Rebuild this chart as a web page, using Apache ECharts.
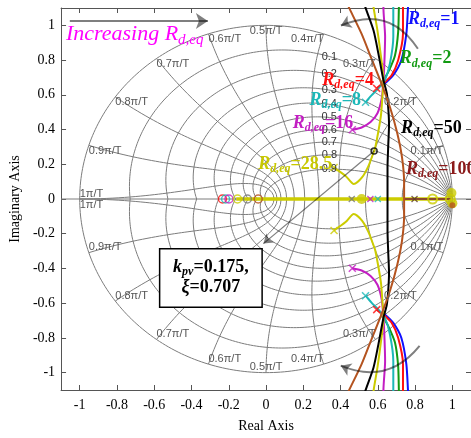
<!DOCTYPE html>
<html><head><meta charset="utf-8">
<script src="https://cdn.jsdelivr.net/npm/echarts@6/dist/echarts.min.js"></script>
<style>html,body{margin:0;padding:0;background:#fff}#c{width:471px;height:438px}</style>
</head><body><div id="c"></div>
<script>
// ---- axis ticks ----
const xTicks = [-1,-0.8,-0.6,-0.4,-0.2,0,0.2,0.4,0.6,0.8,1];
const yTicks = [-1,-0.8,-0.6,-0.4,-0.2,0,0.2,0.4,0.6,0.8,1];
// ---- z-grid values ----
const zetaGrid = [0,0.1,0.2,0.3,0.4,0.5,0.6,0.7,0.8,0.9];
const zetaLabels = ['0.1','0.2','0.3','0.4','0.5','0.6','0.7','0.8','0.9'];
const wnGrid = [0.1,0.2,0.3,0.4,0.5,0.6,0.7,0.8,0.9,1];   // x pi/T
const wnLabels = ['0.1\u03c0/T','0.2\u03c0/T','0.3\u03c0/T','0.4\u03c0/T','0.5\u03c0/T','0.6\u03c0/T','0.7\u03c0/T','0.8\u03c0/T','0.9\u03c0/T','1\u03c0/T'];
// ---- root loci (upper half, conjugate branch mirrored) ----
const locusRd1   = [[0.765,1.16],[0.762,1.105],[0.753,0.951],[0.726,0.799],[0.683,0.713],[0.639,0.666],[0.624,0.652]];
const locusRd2   = [[0.715,1.16],[0.713,1.105],[0.709,0.961],[0.692,0.827],[0.656,0.732],[0.630,0.685],[0.617,0.662]];
const locusRd4   = [[0.735,1.16],[0.735,1.105],[0.735,0.951],[0.709,0.799],[0.674,0.713],[0.630,0.666],[0.594,0.637]];
const locusRd8   = [[0.683,1.16],[0.683,1.105],[0.683,0.934],[0.665,0.780],[0.638,0.685],[0.603,0.637],[0.566,0.597],[0.534,0.557]];
const locusRd16  = [[0.630,1.16],[0.630,1.105],[0.639,0.934],[0.635,0.780],[0.630,0.683],[0.621,0.580],[0.598,0.494],[0.561,0.443],[0.513,0.412],[0.463,0.399]];
const locusRd285 = [[0.575,1.16],[0.577,1.105],[0.598,0.970],[0.617,0.818],[0.630,0.683],[0.624,0.580],[0.617,0.485],[0.603,0.390],[0.586,0.295],[0.580,0.276],[0.550,0.191],[0.515,0.124],[0.471,0.086],[0.427,0.133],[0.365,0.181]];
const locusRd50  = [[0.520,1.16],[0.533,1.105],[0.577,0.970],[0.603,0.837],[0.630,0.685],[0.648,0.609],[0.656,0.523],[0.660,0.426],[0.656,0.312],[0.652,0.181],[0.652,0]];
const locusRd100 = [[0.420,1.16],[0.444,1.105],[0.513,0.951],[0.566,0.808],[0.619,0.666],[0.667,0.523],[0.704,0.380],[0.730,0.238],[0.741,0.095],[0.741,0]];
const realBranchRd285 = [[-0.16,0],[1.0,0]];
const realBranchRd100 = [[0.741,0],[0.99,0]];
// ---- markers on the real axis ----
const zeroX = [-0.234,-0.217,-0.199,-0.153,-0.100,-0.042];
const zeroColors = ['#ff1010','#1cb8b8','#c31ec3','#cccc00','#777777','#b4531f'];
const yellowZeroX = [0.894, 0.989];
const yellowDots = [[0.513,0],[0.995,0.035],[1.0,-0.025]];
const brownDots = [[1.0,-0.036]];
const realPoleX = [0.46,0.56,0.60,0.797];
const realPoleColors = ['#777777','#c31ec3','#1cb8b8','#5a3a2a'];
const designPoint = [[0.580,0.276]];
const designText = ['k','pv','=0.175,','\u03be','=0.707'];

const C = {b:'#1010ff',g:'#129a12',r:'#ff1010',c:'#1cb8b8',m:'#c31ec3',y:'#cccc00',k:'#000000',br:'#b4531f',dr:'#8b1a1a'};
const SERIF = 'Liberation Serif';
const NOFILL = 'rgba(0,0,0,0)';
const mirror = pts => pts.map(p => [p[0], -p[1]]);

const series = [];
function gridLine(pts){
  series.push({type:'line', data:pts, symbol:'none', silent:true, animation:false, z:1,
    lineStyle:{color:'#7c7c7c', width:1}});
}
zetaGrid.forEach(z => {
  const k = z/Math.sqrt(1-z*z), up=[], dn=[];
  for (let i=0;i<=160;i++){ const th=Math.PI*i/160, r=Math.exp(-k*th);
    up.push([r*Math.cos(th), r*Math.sin(th)]); dn.push([r*Math.cos(th), -r*Math.sin(th)]); }
  gridLine(up); gridLine(dn);
});
wnGrid.forEach(w => {
  const wn=w*Math.PI, up=[], dn=[];
  for (let i=0;i<=80;i++){ const z=i/80, r=Math.exp(-z*wn), th=wn*Math.sqrt(1-z*z);
    up.push([r*Math.cos(th), r*Math.sin(th)]); dn.push([r*Math.cos(th), -r*Math.sin(th)]); }
  gridLine(up); gridLine(dn);
});
gridLine([[-1.1,0],[1.1,0]]);

function locus(pts, color, w){
  series.push({type:'line', data:pts, symbol:'none', smooth:0.25, silent:true, animation:false, z:5,
    lineStyle:{color:color, width:w||2}});
}
locus(realBranchRd285, C.y, 3.5);
locus(realBranchRd100, '#8b4a2b', 2);
[[locusRd1,C.b],[locusRd2,C.g],[locusRd4,C.r],[locusRd8,C.c],[locusRd16,C.m],[locusRd285,C.y]].forEach(([p,c])=>{
  locus(p,c); locus(mirror(p),c);
});
[[locusRd50,C.k],[locusRd100,C.br]].forEach(([p,c])=>{
  locus(p.concat(mirror(p).reverse().slice(1)), c);
});

const XSYM = 'path://M0,0L10,10M10,0L0,10';
function marks(pts, symbol, size, style){
  series.push({type:'scatter', data:pts, symbol:symbol, symbolSize:size, silent:true, animation:false, z:6, itemStyle:style});
}
// end-of-locus crosses
[[locusRd4,C.r],[locusRd8,C.c],[locusRd16,C.m],[locusRd285,C.y]].forEach(([p,c])=>{
  const e=p[p.length-1];
  marks([e,[e[0],-e[1]]], XSYM, 7, {color:NOFILL, borderColor:c, borderWidth:1.5});
});
zeroX.forEach((x,i)=>marks([[x,0]], 'circle', 8, {color:NOFILL, borderColor:zeroColors[i], borderWidth:1.5}));
marks(yellowDots, 'circle', 10, {color:C.y});
marks(yellowZeroX.map(x=>[x,0]), 'circle', 9, {color:NOFILL, borderColor:C.y, borderWidth:2});
marks(brownDots, 'circle', 6, {color:'#b4531f'});
realPoleX.forEach((x,i)=>marks([[x,0]], XSYM, 6, {color:NOFILL, borderColor:realPoleColors[i], borderWidth:1.3}));
marks(designPoint, 'circle', 6, {color:NOFILL, borderColor:'#000', borderWidth:1.5});

// annotation arrows
series.push({type:'lines', coordinateSystem:'cartesian2d', silent:true, animation:false, z:7,
  symbol:['none','arrow'], symbolSize:10,
  lineStyle:{color:'#000', width:2},
  data:[
    {coords:[[-1.053,1.025],[-0.312,1.025]], symbolSize:12},
    {coords:[[0.815,0.865],[0.402,0.999]], lineStyle:{curveness:-0.42}},
    {coords:[[0.824,-0.846],[0.401,-0.960]], lineStyle:{curveness:0.375}},
    {coords:[[0.580,0.276],[-0.014,-0.257]], lineStyle:{width:1.3}, symbolSize:9}
  ]});

const axisCommon = {type:'value', min:-1.1, max:1.1, splitLine:{show:false},
  axisLine:{show:true, onZero:false, lineStyle:{color:'#555', width:1}}};
const option = {
  animation:false,
  grid:{left:59, top:8, right:-3, bottom:44},
  xAxis:[
    Object.assign({}, axisCommon, {position:'bottom', name:'Real Axis', nameLocation:'middle', nameGap:29,
      nameTextStyle:{fontFamily:SERIF, fontSize:14, color:'#000'},
      axisTick:{inside:true, length:5, customValues:xTicks, lineStyle:{color:'#555'}},
      axisLabel:{customValues:xTicks, fontFamily:SERIF, fontSize:14, color:'#000', margin:8}}),
    Object.assign({}, axisCommon, {position:'top', axisLabel:{show:false},
      axisTick:{inside:true, length:5, customValues:xTicks, lineStyle:{color:'#555'}}})
  ],
  yAxis:[
    Object.assign({}, axisCommon, {position:'left', name:'Imaginary Axis', nameLocation:'middle', nameGap:31,
      nameTextStyle:{fontFamily:SERIF, fontSize:14, color:'#000'},
      axisTick:{inside:true, length:5, customValues:yTicks, lineStyle:{color:'#555'}},
      axisLabel:{customValues:yTicks, fontFamily:SERIF, fontSize:14, color:'#000', margin:6}}),
    Object.assign({}, axisCommon, {position:'right', axisLabel:{show:false},
      axisTick:{inside:true, length:5, customValues:yTicks, lineStyle:{color:'#555'}}})
  ],
  series:series
};
const chart = echarts.init(document.getElementById('c'));
chart.setOption(option);

const px = p => chart.convertToPixel({xAxisIndex:0, yAxisIndex:0}, p);
const G = [];
// frequency labels at the unit circle
wnGrid.forEach((w,i)=>{
  const a=w*Math.PI, cx=Math.cos(a), sy=Math.sin(a);
  const align = cx<-0.01?'left':(cx>0.01?'right':'center');
  [1,-1].forEach(s=>{
    const p=px([cx, s*sy]);
    let va = s>0?'top':'bottom';
    if (w===1) va = s>0?'bottom':'top';
    G.push({type:'text', x:p[0], y:p[1], z:50, silent:true,
      style:{text:wnLabels[i], fill:'#555', fontFamily:'Liberation Sans', fontSize:11, align:align, verticalAlign:va}});
  });
});
// damping labels
zetaLabels.forEach((t,i)=>{
  const z=parseFloat(t), k=z/Math.sqrt(1-z*z);
  let best=null;
  for (let j=0;j<=2000;j++){ const th=Math.PI*j/2000, r=Math.exp(-k*th);
    if (r*Math.cos(th) <= 0.34){ best=[r*Math.cos(th), r*Math.sin(th)]; break; } }
  const p=px(best);
  G.push({type:'text', x:p[0], y:p[1], z:50, silent:true,
    style:{text:t, fill:'#333', fontFamily:'Liberation Sans', fontSize:11, align:'center', verticalAlign:'middle'}});
});
// R_d,eq labels
function rd(anchor, val, color){
  const p=px(anchor);
  const f = {fontFamily:SERIF, fill:color};
  G.push({type:'text', x:p[0], y:p[1]-9, z:60, silent:true,
    style:{text:'{R|R}{s|d,eq}{v|='+val+'}', align:'left', verticalAlign:'top',
      rich:{R:Object.assign({fontStyle:'italic',fontWeight:'bold',fontSize:18,lineHeight:20,verticalAlign:'top'},f),
            s:Object.assign({fontStyle:'italic',fontWeight:'bold',fontSize:12,lineHeight:12,padding:[9,0,0,0],verticalAlign:'bottom'},f),
            v:Object.assign({fontWeight:'bold',fontSize:18,lineHeight:20,verticalAlign:'top'},f)}}});
}
rd([0.762,1.037],'1',C.b);
rd([0.718,0.808],'2',C.g);
rd([0.302,0.685],'4',C.r);
rd([0.233,0.570],'8',C.c);
rd([0.143,0.438],'16',C.m);
rd([0.725,0.409],'50',C.k);
rd([-0.042,0.200],'28.5','#c8c800');
rd([0.751,0.171],'100',C.dr);
// Increasing R_d,eq
(function(){
  const p=px([-1.074,0.905]);
  const f={fontFamily:SERIF, fill:'#ff00ff', fontStyle:'italic'};
  G.push({type:'text', x:p[0], y:p[1]-18.5, z:60, silent:true,
    style:{text:'{I|Increasing R}{s|d,eq}', align:'left', verticalAlign:'top',
      rich:{I:Object.assign({fontSize:22,lineHeight:24,verticalAlign:'top'},f),
            s:Object.assign({fontSize:15,lineHeight:15,padding:[9,0,0,0],verticalAlign:'bottom'},f)}}});
})();
// box
(function(){
  const a=px([-0.571,-0.287]), b=px([-0.021,-0.624]);
  G.push({type:'rect', z:55, silent:true, shape:{x:a[0], y:a[1], width:b[0]-a[0], height:b[1]-a[1]},
    style:{fill:'#fff', stroke:'#000', lineWidth:1.5}});
  const f={fontFamily:SERIF, fill:'#000', fontWeight:'bold'};
  G.push({type:'text', z:60, silent:true, x:(a[0]+b[0])/2, y:(a[1]+b[1])/2,
    style:{text:'{k|'+designText[0]+'}{p|'+designText[1]+'}{b|'+designText[2]+'}\n{k|'+designText[3]+'}{b|'+designText[4]+'}',
      align:'center', verticalAlign:'middle',
      rich:{k:Object.assign({fontStyle:'italic',fontSize:18,lineHeight:20,verticalAlign:'top'},f),
            p:Object.assign({fontStyle:'italic',fontSize:12,lineHeight:12,padding:[9,0,0,0],verticalAlign:'bottom'},f),
            b:Object.assign({fontSize:18,lineHeight:20,verticalAlign:'top'},f)}}});
})();
chart.setOption({graphic:G});
</script></body></html>
